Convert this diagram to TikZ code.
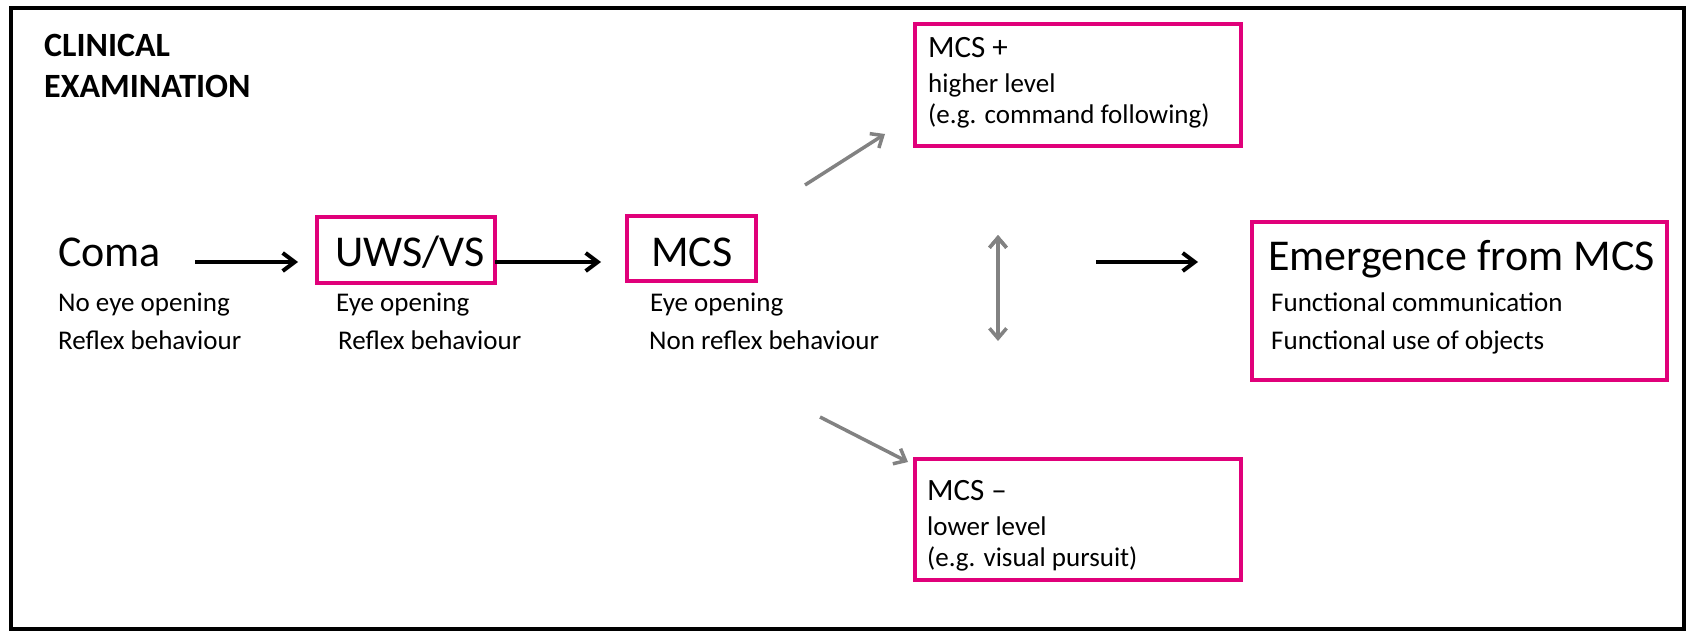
\documentclass[tikz,border=0pt]{standalone}
\usepackage{fontspec}
\setmainfont{Carlito}
\usepackage{tikz}
\usetikzlibrary{arrows,arrows.meta,calc}

\definecolor{boxpink}{RGB}{224,0,122}
\definecolor{arrgray}{RGB}{130,130,130}

\begin{document}
\begin{tikzpicture}[x=1pt, y=-1pt,
  big/.style={font=\fontsize{44}{53}\selectfont, inner sep=0pt, anchor=base west},
  mid/.style={font=\fontsize{31}{37}\selectfont, inner sep=0pt, anchor=base west},
  small/.style={font=\fontsize{27}{32}\selectfont, inner sep=0pt, anchor=base west},
  head/.style={font=\fontsize{34}{40}\selectfont\bfseries, inner sep=0pt, anchor=base west},
  pinkbox/.style={draw=boxpink, line width=4.5pt, anchor=north west, inner sep=0pt, outer sep=0pt},
  blk/.style={->, line width=4pt, >={Straight Barb[length=12pt, width=18pt]}},
  gry/.style={->, draw=arrgray, line width=3.5pt, >={Straight Barb[length=10pt, width=17pt]}}]
  \useasboundingbox (0,0) rectangle (1688,631);
  \draw[line width=4pt] (11,8) rectangle (1684,629);

  \node[head] (clin) at (44,57) {CLINICAL};
  \node[head] (exam) at (44,98) {EXAMINATION};

  \node[pinkbox, minimum width=178pt, minimum height=66pt] (uws) at (317,217) {};
  \node[pinkbox, minimum width=129pt, minimum height=65pt] (mcs) at (627,216) {};
  \node[pinkbox, minimum width=326pt, minimum height=122pt] (plus) at (915,24) {};
  \node[pinkbox, minimum width=326pt, minimum height=121pt] (minus) at (915,459) {};
  \node[pinkbox, minimum width=415pt, minimum height=158pt] (emerg) at (1252,222) {};

  \node[big] (coma) at (58,266) {Coma};
  \node[small] (coma1) at (58,311) {No eye opening};
  \node[small] (coma2) at (58,349) {Reflex behaviour};
  \node[big] (uwst) at (335,266) {UWS/VS};
  \node[small] (uws1) at (336,311) {Eye opening};
  \node[small] (uws2) at (338,349) {Reflex behaviour};
  \node[big] (mcst) at (651,266) {MCS};
  \node[small] (mcs1) at (650,311) {Eye opening};
  \node[small] (mcs2) at (649,349) {Non reflex behaviour};
  \node[mid] (plust) at (928,58) {MCS +};
  \node[small] (plus1) at (928,93) {higher level};
  \node[small] (plus2) at (928,124) {(e.g. command following)};
  \node[mid] (minust) at (927,500) {MCS --};
  \node[small] (minus1) at (927,535) {lower level};
  \node[small] (minus2) at (927,566) {(e.g. visual pursuit)};
  \node[big] (emergt) at (1268,270) {Emergence from MCS};
  \node[small] (emerg1) at (1271,311) {Functional communication};
  \node[small] (emerg2) at (1271,349) {Functional use of objects};

  \coordinate (row) at (0,262);
  \coordinate (fork) at (998,262);
  \coordinate (up0) at (805,185);
  \coordinate (up1) at (885,134);
  \coordinate (dn0) at (820,417);
  \coordinate (dn1) at (908,462);
  \coordinate (sw0) at (998,235);
  \coordinate (sw1) at (998,341);

  \path[blk]
  (coma.east |- row) edge [shorten <=34pt, shorten >=19pt] (uws.west |- row)
  (uws.east |- row) edge [shorten >=26pt] (mcs.west |- row)
  (fork) edge [shorten <=98pt, shorten >=54pt] (emerg.west |- row);
  \path[gry]
  (up0) edge (up1)
  (dn0) edge (dn1)
  (sw0) edge [<->] (sw1);
\end{tikzpicture}
\end{document}
